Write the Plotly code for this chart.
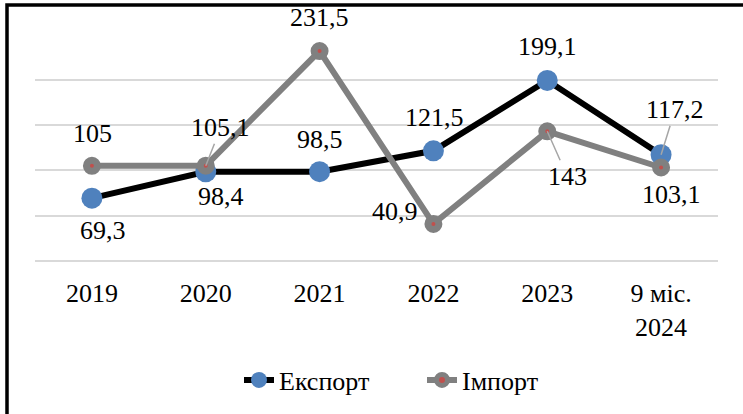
import plotly.graph_objects as go

categories = ["2019", "2020", "2021", "2022", "2023", "9 міс.<br>2024"]
export_vals = [69.3, 98.4, 98.5, 121.5, 199.1, 117.2]
import_vals = [105, 105.1, 231.5, 40.9, 143, 103.1]
export_labels = ["69,3", "98,4", "98,5", "121,5", "199,1", "117,2"]
import_labels = ["105", "105,1", "231,5", "40,9", "143", "103,1"]

FONT = "Liberation Serif"
FS = 26

fig = go.Figure()
fig.add_trace(go.Scatter(
    x=categories, y=export_vals, name="Експорт", mode="lines+markers",
    line=dict(color="black", width=6),
    marker=dict(color="#4f81bd", size=21, line=dict(width=0)),
))
fig.add_trace(go.Scatter(
    x=categories, y=import_vals, name="Імпорт", mode="lines+markers",
    line=dict(color="#808080", width=6),
    marker=dict(color="#c0504d", size=11, line=dict(width=7, color="#808080")),
))

# label offsets (pixels): (xshift, yshift) or arrow (ax, ay)
export_off = [(11, -32), (15, -25), (0, 32), (1, 33), (0, 34), None]
export_arrow = [None, None, None, None, None, (14, -45)]
import_off = [(1, 32), None, (0, 34), (-38, 12), None, (10, -27)]
import_arrow = [None, (15, -38), None, None, (20, 45), None]

ann = []
for vals, labels, offs, arrows in [
    (export_vals, export_labels, export_off, export_arrow),
    (import_vals, import_labels, import_off, import_arrow),
]:
    for i, (v, t, o, a) in enumerate(zip(vals, labels, offs, arrows)):
        if o is not None:
            ann.append(dict(x=i, y=v, text=t, showarrow=False, xshift=o[0], yshift=o[1],
                            xanchor="center", yanchor="middle",
                            font=dict(family=FONT, size=FS, color="black")))
        else:
            ann.append(dict(x=i, y=v, text=t, showarrow=True, ax=a[0], ay=a[1],
                            arrowhead=0, arrowwidth=1.5, arrowcolor="#a6a6a6",
                            standoff=0, startstandoff=0,
                            font=dict(family=FONT, size=FS, color="black")))

# frame (pixel -> paper conversion)
L, R, T, B = 35, 25, 34, 153
W, H = 743, 414
pw, ph = W - L - R, H - T - B
def px(x):
    return (x - L) / pw
def py(y):
    return (H - B - y) / ph

frame_path = "M {:.5f} {:.5f} L {:.5f} {:.5f} L {:.5f} {:.5f}".format(
    px(7), py(430), px(7), py(5), px(760), py(5))
fig.add_shape(type="path", xref="paper", yref="paper", path=frame_path,
              line=dict(color="black", width=3.5))

fig.update_layout(
    width=W, height=H,
    margin=dict(l=L, r=R, t=T, b=B, autoexpand=False),
    paper_bgcolor="white", plot_bgcolor="white",
    font=dict(family=FONT, size=FS, color="black"),
    showlegend=True,
    legend=dict(orientation="h", x=px(422), xanchor="center", y=py(380), yanchor="middle",
                font=dict(family=FONT, size=FS, color="black"),
                entrywidth=138, entrywidthmode="pixels"),
    annotations=ann,
    xaxis=dict(type="category", showgrid=False, showline=False, zeroline=False, ticks="",
               tickfont=dict(family=FONT, size=FS, color="black"),
               ticklabelstandoff=14, range=[-0.5, 5.5]),
    yaxis=dict(range=[0, 250.3], dtick=50, showgrid=True, gridcolor="#d9d9d9", gridwidth=1.5,
               zeroline=True, zerolinecolor="#d9d9d9", zerolinewidth=1.5,
               showticklabels=False, ticks="", showline=False),
)

fig.write_html("out.html", config={"displayModeBar": False},
               post_script=("document.documentElement.style.margin='0';"
                            "document.documentElement.style.overflow='hidden';"
                            "document.body.style.margin='0';"
                            "document.body.style.overflow='hidden';"))
